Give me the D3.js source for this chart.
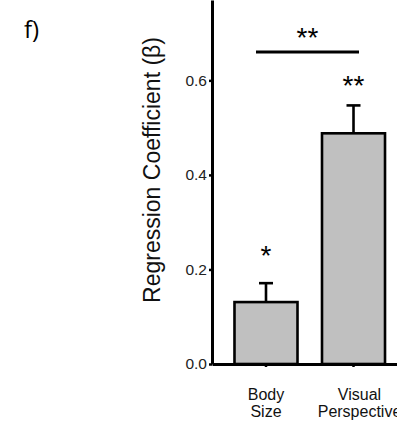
<!DOCTYPE html>
<html>
<head>
<meta charset="utf-8">
<script src="https://cdn.jsdelivr.net/npm/d3@7"></script>
<style>
    body { margin: 0; background: #fff; }
    svg text { font-family: "Liberation Sans", Arial, sans-serif; }
</style>
</head>
<body>
<div id="chart"></div>
<script>
// data
var categories = [["Body", "Size"], ["Visual", "Perspective"]];
var catKeys = ["Body Size", "Visual Perspective"];
var means = [0.131, 0.488];
var errors = [0.040, 0.059];
var barStars = ["*", "**"];
var yTicks = [0.0, 0.2, 0.4, 0.6];

var W = 397, H = 421;
var svg = d3.select("#chart").append("svg")
    .attr("width", W)
    .attr("height", H);

var x0 = 212, yBase = 364;
var x = d3.scaleBand()
    .domain(catKeys)
    .range([x0, 407.5])
    .paddingInner(0.28)
    .paddingOuter(0.257);
var y = d3.scaleLinear()
    .domain([0, 0.77])
    .range([yBase, 0]);

// panel letter
svg.append("text")
    .attr("x", 24)
    .attr("y", 38)
    .style("font-size", "24px")
    .style("font-family", "'Open Sans', sans-serif")
    .text("f)");

// bars
svg.selectAll(".bar")
    .data(catKeys)
    .enter().append("rect")
    .attr("class", "bar")
    .attr("x", function(d) { return x(d); })
    .attr("width", x.bandwidth())
    .attr("y", function(d, i) { return y(means[i]); })
    .attr("height", function(d, i) { return yBase - y(means[i]); })
    .attr("fill", "#c0c0c0")
    .attr("stroke", "#000")
    .attr("stroke-width", 2.6);

// error bars
var capW = 14;
var starGap = [18, 10];
catKeys.forEach(function(d, i) {
    var cx = x(d) + x.bandwidth() / 2;
    svg.append("line")
        .attr("x1", cx).attr("x2", cx)
        .attr("y1", y(means[i])).attr("y2", y(means[i] + errors[i]))
        .attr("stroke", "#000").attr("stroke-width", 2.6);
    svg.append("line")
        .attr("x1", cx - capW / 2).attr("x2", cx + capW / 2)
        .attr("y1", y(means[i] + errors[i])).attr("y2", y(means[i] + errors[i]))
        .attr("stroke", "#000").attr("stroke-width", 2.6);
    svg.append("text")
        .attr("x", cx)
        .attr("y", y(means[i] + errors[i]) - starGap[i])
        .attr("text-anchor", "middle")
        .style("font-size", "28px")
        .text(barStars[i]);
});

// axes
var yAxis = d3.axisLeft(y).tickValues(yTicks).tickSize(3).tickSizeOuter(0)
    .tickFormat(d3.format(".1f"));
var gy = svg.append("g")
    .attr("transform", "translate(" + x0 + ",0)")
    .call(yAxis);
gy.select(".domain").attr("stroke-width", 3);
gy.selectAll(".tick line").attr("stroke-width", 2.5);
gy.selectAll(".tick text")
    .attr("x", -5)
    .style("font-size", "15.5px")
    .attr("fill", "#222");

var xAxis = d3.axisBottom(x).tickSize(3).tickSizeOuter(0).tickFormat("");
var gx = svg.append("g")
    .attr("transform", "translate(0," + yBase + ")")
    .call(xAxis);
gx.select(".domain").attr("stroke-width", 3);
gx.selectAll(".tick line").attr("stroke-width", 2.5);

// category labels
var labelShift = [0, 6];
catKeys.forEach(function(d, i) {
    var lx = x(d) + x.bandwidth() / 2 + labelShift[i];
    var t = svg.append("text")
        .attr("x", lx)
        .attr("y", 400)
        .attr("text-anchor", "middle")
        .style("font-size", "16px")
        .attr("fill", "#111");
    t.append("tspan").attr("x", lx).text(categories[i][0]);
    t.append("tspan").attr("x", lx).attr("dy", 17).text(categories[i][1]);
});

// y label
svg.append("text")
    .attr("transform", "translate(160,170) rotate(-90)")
    .attr("text-anchor", "middle")
    .style("font-size", "23px")
    .attr("fill", "#111")
    .text("Regression Coefficient (\u03b2)");

// significance bracket
var xl = 256, xr = 359, ySig = 52;
svg.append("line")
    .attr("x1", xl).attr("x2", xr)
    .attr("y1", ySig).attr("y2", ySig)
    .attr("stroke", "#000").attr("stroke-width", 3);
svg.append("text")
    .attr("x", (xl + xr) / 2)
    .attr("y", ySig - 5)
    .attr("text-anchor", "middle")
    .style("font-size", "28px")
    .text("**");
</script>
</body>
</html>
